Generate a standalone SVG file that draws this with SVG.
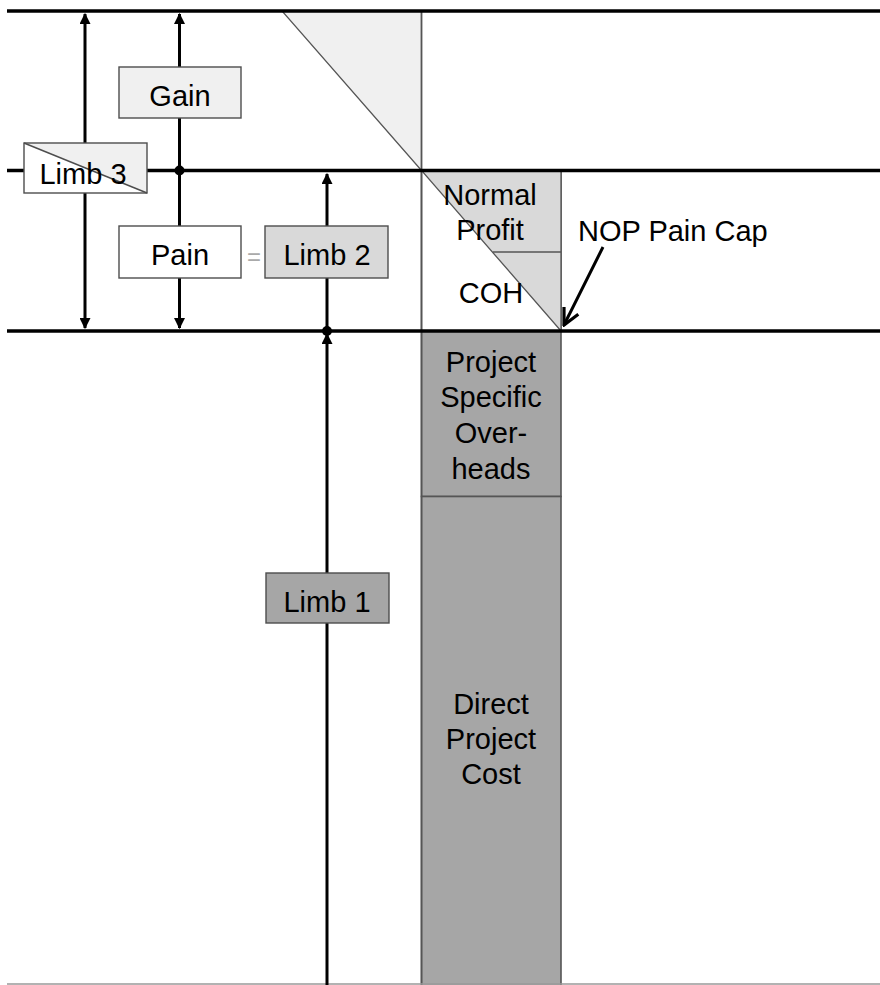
<svg xmlns="http://www.w3.org/2000/svg" width="880" height="985" viewBox="0 0 880 985">
<defs>
<style>
text{font-family:"Liberation Sans",Arial,sans-serif;font-size:29px;fill:#000;text-anchor:middle}
.box{stroke:#4d4d4d;stroke-width:1.4}
.axis{stroke:#000;stroke-width:3.4;fill:none}
.arr{stroke:#000;stroke-width:3;fill:none}
.col{stroke:#555;stroke-width:1.6}
</style>
<marker id="ah" viewBox="0 0 10 10" refX="9" refY="5" markerUnits="userSpaceOnUse" markerWidth="11" markerHeight="11" orient="auto-start-reverse">
<path d="M0,0 L10,5 L0,10 z" fill="#000"/>
</marker>
<marker id="open" viewBox="0 0 10 10" refX="9" refY="5" markerUnits="userSpaceOnUse" markerWidth="20" markerHeight="20" orient="auto">
<path d="M1,1 L9,5 L1,9" fill="none" stroke="#000" stroke-width="1.6"/>
</marker>
</defs>
<rect width="880" height="985" fill="#fff"/>

<g id="top-triangle">
<polygon points="282,11 421.5,11 421.5,170.5" fill="#f0f0f0" stroke="#555" stroke-width="1.3"/>
</g>
<g id="nop-region">
<rect x="421.5" y="170.5" width="139.5" height="160.5" fill="#fff" class="col"/>
<polygon points="421.5,170.5 561,170.5 561,331" fill="#d9d9d9" stroke="#555" stroke-width="1.3"/>
<line x1="493" y1="252" x2="561" y2="252" stroke="#555" stroke-width="1.3"/>
<text x="490" y="205">Normal</text>
<text x="490" y="240">Profit</text>
<text x="491" y="303">COH</text>
</g>
<g id="pso">
<rect x="421.5" y="331" width="139.5" height="165.5" fill="#a6a6a6" class="col"/>
<text x="491" y="372">Project</text>
<text x="491" y="407">Specific</text>
<text x="491" y="443">Over-</text>
<text x="491" y="479">heads</text>
</g>
<g id="dpc">
<rect x="421.5" y="496.5" width="139.5" height="492" fill="#a6a6a6" class="col"/>
<text x="491" y="714">Direct</text>
<text x="491" y="749">Project</text>
<text x="491" y="784">Cost</text>
</g>
<line x1="421.5" y1="11" x2="421.5" y2="985" stroke="#555" stroke-width="1.6"/>

<g id="connectors">
<line x1="7" y1="11" x2="880" y2="11" class="axis"/>
<line x1="7" y1="170.5" x2="880" y2="170.5" class="axis"/>
<line x1="7" y1="331" x2="880" y2="331" class="axis"/>
<line x1="7" y1="984" x2="880" y2="984" stroke="#999" stroke-width="1.5"/>
<line x1="85" y1="14" x2="85" y2="328" class="arr" marker-start="url(#ah)" marker-end="url(#ah)"/>
<line x1="179.5" y1="170.5" x2="179.5" y2="14" class="arr" marker-end="url(#ah)"/>
<line x1="179.5" y1="170.5" x2="179.5" y2="328" class="arr" marker-end="url(#ah)"/>
<line x1="327" y1="331" x2="327" y2="174" class="arr" marker-end="url(#ah)"/>
<line x1="327" y1="985" x2="327" y2="334" class="arr" marker-end="url(#ah)"/>
<circle cx="179.5" cy="170.5" r="5" fill="#000"/>
<circle cx="327" cy="331" r="5" fill="#000"/>
<line x1="603" y1="247" x2="564" y2="325" stroke="#000" stroke-width="3" marker-end="url(#open)"/>
</g>

<g id="gain">
<rect x="119" y="67" width="122" height="51" fill="#f0f0f0" class="box"/>
<text x="180" y="106">Gain</text>
</g>
<g id="limb3">
<rect x="24" y="143" width="123" height="50" fill="#fff"/>
<polygon points="24,143 147,143 147,193" fill="#f0f0f0"/>
<line x1="24" y1="143" x2="147" y2="193" stroke="#4d4d4d" stroke-width="1.4"/>
<rect x="24" y="143" width="123" height="50" fill="none" class="box"/>
<text x="83" y="184">Limb 3</text>
</g>
<g id="pain">
<rect x="119" y="226" width="122" height="52" fill="#fff" class="box"/>
<text x="180" y="265">Pain</text>
</g>
<g id="equals">
<text x="254" y="265" style="fill:#aaa;font-size:24px">=</text>
</g>
<g id="limb2">
<rect x="265" y="226" width="123" height="52" fill="#d9d9d9" class="box"/>
<text x="327" y="265">Limb 2</text>
</g>
<g id="limb1">
<rect x="266" y="573" width="123" height="50" fill="#a6a6a6" class="box"/>
<text x="327" y="612">Limb 1</text>
</g>
<g id="nop-label">
<text x="578" y="241" style="text-anchor:start">NOP Pain Cap</text>
</g>
</svg>
